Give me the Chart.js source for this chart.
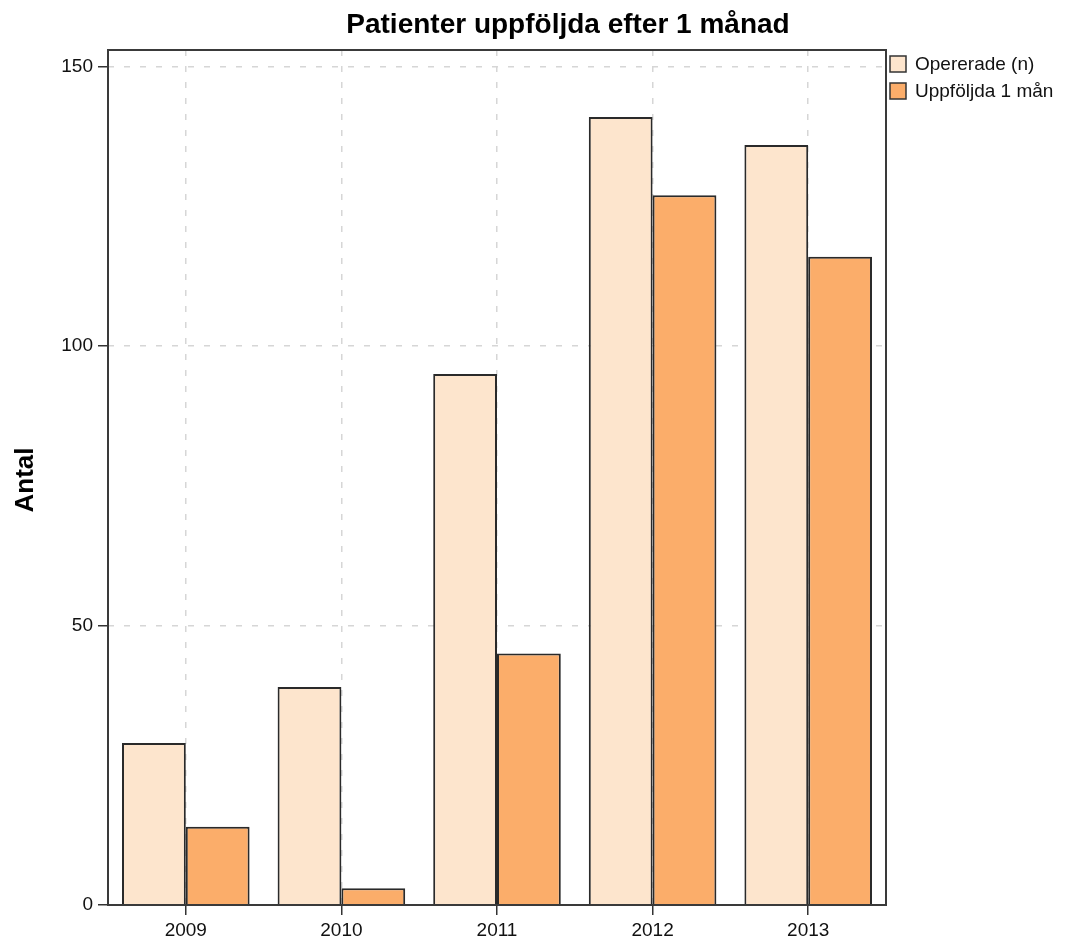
<!DOCTYPE html>
<html>
<head>
<meta charset="utf-8">
<script src="https://cdn.jsdelivr.net/npm/chart.js@4"></script>
<style>
  html, body { margin: 0; padding: 0; background: #fff; }
  #wrap { width: 1069px; height: 946px; position: relative; }
</style>
</head>
<body>
<div id="wrap"><canvas id="chart"></canvas></div>
<script>
const years = ["2009", "2010", "2011", "2012", "2013"];
const opererade = [29, 39, 95, 141, 136];
const uppfoljda = [14, 3, 45, 127, 116];
const yTicks = [0, 50, 100, 150];
const seriesNames = ["Opererade (n)", "Uppföljda 1 mån"];
const seriesColors = ["#fde5cd", "#fbad6a"];

const FONT = "'Liberation Sans', Arial, sans-serif";

// title, frame and legend drawn by hand
const decor = {
  id: "decor",
  afterDraw(chart) {
    const ctx = chart.ctx;
    const a = chart.chartArea;
    ctx.save();
    ctx.strokeStyle = "#3a3a3a";
    ctx.lineWidth = 2;
    ctx.strokeRect(a.left, a.top, a.right - a.left, a.bottom - a.top);

    ctx.fillStyle = "#000";
    ctx.font = "bold 28px " + FONT;
    ctx.textAlign = "center";
    ctx.textBaseline = "middle";
    ctx.fillText("Patienter uppföljda efter 1 månad", 568, 25);

    ctx.translate(26, 480);
    ctx.rotate(-Math.PI / 2);
    ctx.font = "bold 26px " + FONT;
    ctx.fillText("Antal", 0, 0);
    ctx.restore();

    ctx.save();
    ctx.font = "19px " + FONT;
    ctx.textAlign = "left";
    ctx.textBaseline = "middle";
    seriesNames.forEach((name, i) => {
      const y = 64 + i * 27;
      ctx.fillStyle = seriesColors[i];
      ctx.fillRect(890, y - 8, 16, 16);
      ctx.strokeStyle = "#333";
      ctx.lineWidth = 1.5;
      ctx.strokeRect(890, y - 8, 16, 16);
      ctx.fillStyle = "#111";
      ctx.fillText(name, 915, y + 1);
    });
    ctx.restore();
  }
};

new Chart(document.getElementById("chart"), {
  type: "bar",
  data: {
    labels: years,
    datasets: [
      { label: seriesNames[0], data: opererade, backgroundColor: seriesColors[0], borderColor: "#2a2a2a", borderWidth: 2 },
      { label: seriesNames[1], data: uppfoljda, backgroundColor: seriesColors[1], borderColor: "#2a2a2a", borderWidth: 2 }
    ]
  },
  options: {
    responsive: true,
    maintainAspectRatio: false,
    animation: false,
    layout: { padding: { left: 0, top: 50, right: 183, bottom: 0 } },
    datasets: { bar: { barPercentage: 1, categoryPercentage: 0.82 } },
    plugins: { legend: { display: false }, title: { display: false }, tooltip: { enabled: false } },
    scales: {
      x: {
        grid: { offset: false, color: "#d6d6d6", lineWidth: 1.5, tickColor: "#333", tickLength: 10, tickBorderDash: [] },
        border: { display: false, dash: [6, 10] },
        ticks: { color: "#111", font: { family: FONT, size: 19 }, padding: 4 },
        afterFit(s) { s.height = 41; }
      },
      y: {
        min: 0,
        max: 153,
        afterBuildTicks(s) { s.ticks = yTicks.map(v => ({ value: v })); },
        grid: { color: "#d6d6d6", lineWidth: 1.5, tickColor: "#333", tickLength: 10, tickBorderDash: [] },
        border: { display: false, dash: [6, 10] },
        ticks: { color: "#111", font: { family: FONT, size: 19 }, padding: 5 },
        afterFit(s) { s.width = 108; }
      }
    }
  },
  plugins: [decor]
});
</script>
</body>
</html>
